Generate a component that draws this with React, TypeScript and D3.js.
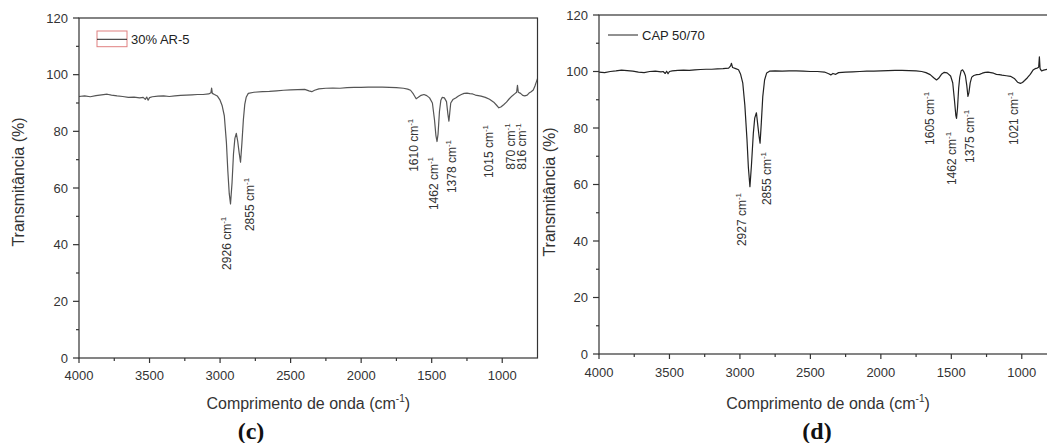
import React from "react";
import * as d3 from "d3";

// ---------- DATA ----------
const yTicksMajor = [0, 20, 40, 60, 80, 100, 120];
const yTicksMinor = [10, 30, 50, 70, 90, 110];
const xTicksMajor = [4000, 3500, 3000, 2500, 2000, 1500, 1000];
const xTicksMinor = [3750, 3250, 2750, 2250, 1750, 1250];

const leftWave = [4000, 3960, 3920, 3880, 3840, 3800, 3770, 3730, 3690, 3650, 3610, 3570, 3545, 3530, 3520, 3510, 3500, 3480, 3440, 3400, 3360, 3320, 3280, 3240, 3200, 3160, 3120, 3080, 3065, 3060, 3055, 3040, 3020, 3000, 2985, 2970, 2955, 2945, 2935, 2926, 2915, 2905, 2895, 2885, 2875, 2865, 2855, 2845, 2835, 2825, 2815, 2800, 2760, 2700, 2650, 2600, 2550, 2500, 2450, 2400, 2370, 2350, 2330, 2300, 2250, 2200, 2150, 2100, 2050, 2000, 1950, 1900, 1850, 1800, 1750, 1700, 1670, 1650, 1630, 1610, 1595, 1575, 1555, 1535, 1515, 1495, 1480, 1470, 1462, 1455, 1445, 1435, 1425, 1410, 1395, 1385, 1378, 1372, 1365, 1350, 1330, 1310, 1290, 1270, 1250, 1230, 1210, 1190, 1170, 1150, 1120, 1090, 1060, 1040, 1024, 1010, 990, 970, 950, 930, 910, 898, 892, 886, 870, 855, 840, 823, 810, 795, 780, 768, 760, 750];
const leftTrans = [92.3, 92.5, 92.2, 92.6, 92.9, 93.1, 92.8, 92.5, 92.3, 92.0, 92.1, 91.8, 92.0, 91.3, 92.1, 91.0, 91.9, 92.2, 92.4, 92.5, 92.3, 92.5, 92.7, 92.8, 92.9, 93.0, 93.0, 93.2, 93.6, 95.3, 93.4, 93.0, 92.5, 91.0, 89.0, 85.5, 76.0, 66.0, 58.0, 54.4, 62.0, 72.0, 77.5, 79.3, 76.5, 72.5, 69.1, 76.0, 84.0, 89.5, 92.0, 93.4, 93.8, 94.0, 94.1, 94.3, 94.5, 94.6, 94.7, 94.8, 94.3, 94.0, 94.5, 95.0, 95.2, 95.3, 95.2, 95.4, 95.5, 95.5, 95.6, 95.6, 95.6, 95.5, 95.4, 95.2, 94.9, 94.5, 93.2, 91.5, 92.0, 92.7, 93.0, 92.6, 91.8, 90.0, 84.0, 78.5, 76.4, 79.0, 87.0, 91.0, 92.0, 91.8, 90.5, 86.0, 83.6, 86.5, 90.0, 91.2, 91.8, 92.5, 93.0, 93.4, 93.5, 93.3, 93.2, 92.8, 92.6, 92.4, 92.0, 91.3, 90.3, 89.2, 88.3, 88.6, 89.4, 90.3, 91.5, 92.5, 93.3, 93.8, 96.2, 93.8, 93.4, 92.7, 92.5, 92.8, 93.5, 94.0, 94.6, 96.0, 97.2, 98.6];

const rightWave = [4000, 3960, 3920, 3880, 3840, 3800, 3760, 3720, 3680, 3640, 3600, 3560, 3545, 3530, 3520, 3510, 3500, 3480, 3440, 3400, 3360, 3320, 3280, 3240, 3200, 3160, 3120, 3080, 3066, 3060, 3052, 3030, 3010, 2995, 2980, 2965, 2950, 2940, 2929, 2918, 2905, 2895, 2883, 2872, 2864, 2857, 2848, 2838, 2825, 2810, 2790, 2750, 2700, 2650, 2600, 2550, 2500, 2450, 2400, 2370, 2355, 2340, 2320, 2300, 2250, 2200, 2150, 2100, 2050, 2000, 1950, 1900, 1850, 1800, 1750, 1710, 1680, 1650, 1625, 1605, 1590, 1570, 1550, 1530, 1505, 1490, 1478, 1468, 1463, 1456, 1448, 1440, 1430, 1420, 1410, 1400, 1390, 1382, 1375, 1366, 1355, 1340, 1320, 1300, 1280, 1260, 1240, 1220, 1200, 1180, 1160, 1140, 1110, 1080, 1050, 1030, 1010, 995, 980, 960, 940, 920, 905, 890, 880, 875, 870, 860, 845, 820, 790, 750];
const rightTrans = [99.8, 99.6, 100.0, 100.2, 100.5, 100.3, 100.1, 99.8, 99.6, 100.0, 100.1, 99.9, 100.0, 99.3, 100.1, 99.2, 100.0, 100.2, 100.4, 100.5, 100.4, 100.6, 100.7, 100.8, 100.8, 100.9, 101.0, 101.2, 102.0, 102.9, 101.4, 101.0, 100.6, 99.0, 96.0, 88.0, 76.0, 66.0, 59.2, 67.0, 78.0, 83.5, 85.4, 80.5, 77.0, 74.6, 82.0, 91.0, 97.0, 99.5, 100.1, 100.2, 100.1, 100.2, 100.2, 100.1, 100.0, 100.0, 99.8, 99.2, 98.8, 99.3, 99.0, 99.6, 99.8, 99.9, 100.0, 100.1, 100.1, 100.2, 100.3, 100.4, 100.4, 100.3, 100.2, 100.0, 99.6, 98.9, 97.8, 97.0, 97.6, 99.0, 99.7, 99.5, 98.4, 96.0, 90.0, 84.5, 83.4, 87.0, 94.0, 98.0, 100.3, 100.6, 99.8, 98.5, 95.0, 91.2, 92.5, 96.0, 98.0, 98.6, 98.9, 99.0, 99.4, 99.7, 99.8, 99.6, 99.4, 99.0, 98.9, 98.7, 98.5, 98.3, 97.4, 96.2, 95.8, 96.1, 96.8, 97.8, 99.0, 100.5, 101.0, 101.2, 101.5, 105.2, 101.0, 100.2, 100.5, 100.8, 101.0, 101.0];

// peak annotations: text, wavenumber where drawn, transmittance level of text start
const leftPeakText = ["2926", "2855", "1610", "1462", "1378", "1015", "870", "816"];
const leftPeakAt = [2924, 2758, 1599, 1457, 1327, 1067, 913, 834];
const leftPeakLevel = [31.1, 44.8, 65.7, 52.2, 58.2, 63.5, 66.4, 66.4];

const rightPeakText = ["2927", "2855", "1605", "1462", "1375", "1021"];
const rightPeakAt = [2954, 2776, 1624, 1470, 1339, 1030];
const rightPeakLevel = [38.2, 52.7, 74.0, 59.8, 67.6, 74.0];

const legendLeft = "30% AR-5";
const legendRight = "CAP 50/70";
const yTitle = "Transmitância (%)";
const xTitle = "Comprimento de onda (cm";

const SANS = "'Liberation Sans', Arial, sans-serif";
const AX = "#333";

type PanelProps = {
  left: number; right: number; top: number; bottom: number;
  wave: number[]; trans: number[]; lineColor: string;
  peakText: string[]; peakAt: number[]; peakLevel: number[];
  legend: string; legendBox: boolean; legendX: number; legendY: number;
  yTitleX: number; yTitleY: number; xTitleY: number; tickLabelDy: number;
  caption: string; captionX: number;
};

function Panel(p: PanelProps) {
  const x = d3.scaleLinear().domain([4000, 750]).range([p.left, p.right]);
  const y = d3.scaleLinear().domain([0, 120]).range([p.bottom, p.top]);
  const pts = p.wave.map((w, i) => [w, p.trans[i]] as [number, number]);
  const line = d3.line<[number, number]>().x(d => x(d[0])).y(d => y(d[1]));
  const xc = (p.left + p.right) / 2;
  return (
    <g>
      <path d={line(pts) || ""} fill="none" stroke={p.lineColor} strokeWidth={1.2} strokeLinejoin="round" />
      {/* frame */}
      <rect x={p.left} y={p.top} width={p.right - p.left} height={p.bottom - p.top} fill="none" stroke={AX} strokeWidth={1.2} />
      {/* y ticks */}
      {yTicksMajor.map(t => (
        <g key={"ym" + t}>
          <line x1={p.left - 6} x2={p.left} y1={y(t)} y2={y(t)} stroke={AX} strokeWidth={1.2} />
          <text x={p.left - 11} y={y(t)} dy="0.35em" textAnchor="end" fontFamily={SANS} fontSize={13} fill={AX}>{t}</text>
        </g>
      ))}
      {yTicksMinor.map(t => (
        <line key={"yn" + t} x1={p.left - 3} x2={p.left} y1={y(t)} y2={y(t)} stroke={AX} strokeWidth={1.2} />
      ))}
      {/* x ticks */}
      {xTicksMajor.map(t => (
        <g key={"xm" + t}>
          <line x1={x(t)} x2={x(t)} y1={p.bottom} y2={p.bottom + 5} stroke={AX} strokeWidth={1.2} />
          <text x={x(t)} y={p.bottom + p.tickLabelDy} textAnchor="middle" fontFamily={SANS} fontSize={13} fill={AX}>{t}</text>
        </g>
      ))}
      {xTicksMinor.map(t => (
        <line key={"xn" + t} x1={x(t)} x2={x(t)} y1={p.bottom} y2={p.bottom + 3} stroke={AX} strokeWidth={1.2} />
      ))}
      {/* peak labels */}
      {p.peakText.map((s, i) => {
        const px = x(p.peakAt[i]);
        const py = y(p.peakLevel[i]);
        return (
          <text key={"pk" + i} transform={`translate(${px},${py}) rotate(-90)`} fontFamily={SANS} fontSize={12} fill={AX}>
            {s + " cm"}<tspan fontSize={8} dy={-5}>-1</tspan>
          </text>
        );
      })}
      {/* legend */}
      {p.legendBox && (
        <rect x={p.legendX} y={p.legendY - 8.3} width={30} height={15.7} fill="none" stroke="#e08080" strokeWidth={1} />
      )}
      <line x1={p.legendX} x2={p.legendX + 30} y1={p.legendY} y2={p.legendY} stroke="#222" strokeWidth={1} />
      <text x={p.legendX + 34} y={p.legendY + 4.8} fontFamily={SANS} fontSize={13} fill="#222">{p.legend}</text>
      {/* axis titles */}
      <text transform={`translate(${p.yTitleX},${p.yTitleY}) rotate(-90)`} textAnchor="middle" fontFamily={SANS} fontSize={16} fill={AX}>{yTitle}</text>
      <text x={xc} y={p.xTitleY} textAnchor="middle" fontFamily={SANS} fontSize={16} fill={AX}>
        {xTitle}<tspan fontSize={10} dy={-7}>-1</tspan><tspan dy={7}>)</tspan>
      </text>
      <text x={p.captionX} y={439} textAnchor="middle" fontFamily="'Liberation Serif', 'Times New Roman', serif" fontWeight="bold" fontSize={24} fill="#111">{p.caption}</text>
    </g>
  );
}

export default function App() {
  return (
    <svg width={1047} height={443} style={{ position: "absolute", left: 0, top: 0, background: "#fff" }}>
      <rect x={0} y={0} width={1047} height={443} fill="#fff" />
      <Panel left={79} right={537.5} top={18} bottom={358}
        wave={leftWave} trans={leftTrans} lineColor="#555"
        peakText={leftPeakText} peakAt={leftPeakAt} peakLevel={leftPeakLevel}
        legend={legendLeft} legendBox={true} legendX={97} legendY={39.3}
        yTitleX={24} yTitleY={182} xTitleY={409} tickLabelDy={22}
        caption="(c)" captionX={251} />
      <Panel left={599} right={1057} top={15} bottom={354}
        wave={rightWave} trans={rightTrans} lineColor="#222"
        peakText={rightPeakText} peakAt={rightPeakAt} peakLevel={rightPeakLevel}
        legend={legendRight} legendBox={false} legendX={608} legendY={35}
        yTitleX={555} yTitleY={192} xTitleY={409} tickLabelDy={23}
        caption="(d)" captionX={817} />
    </svg>
  );
}
